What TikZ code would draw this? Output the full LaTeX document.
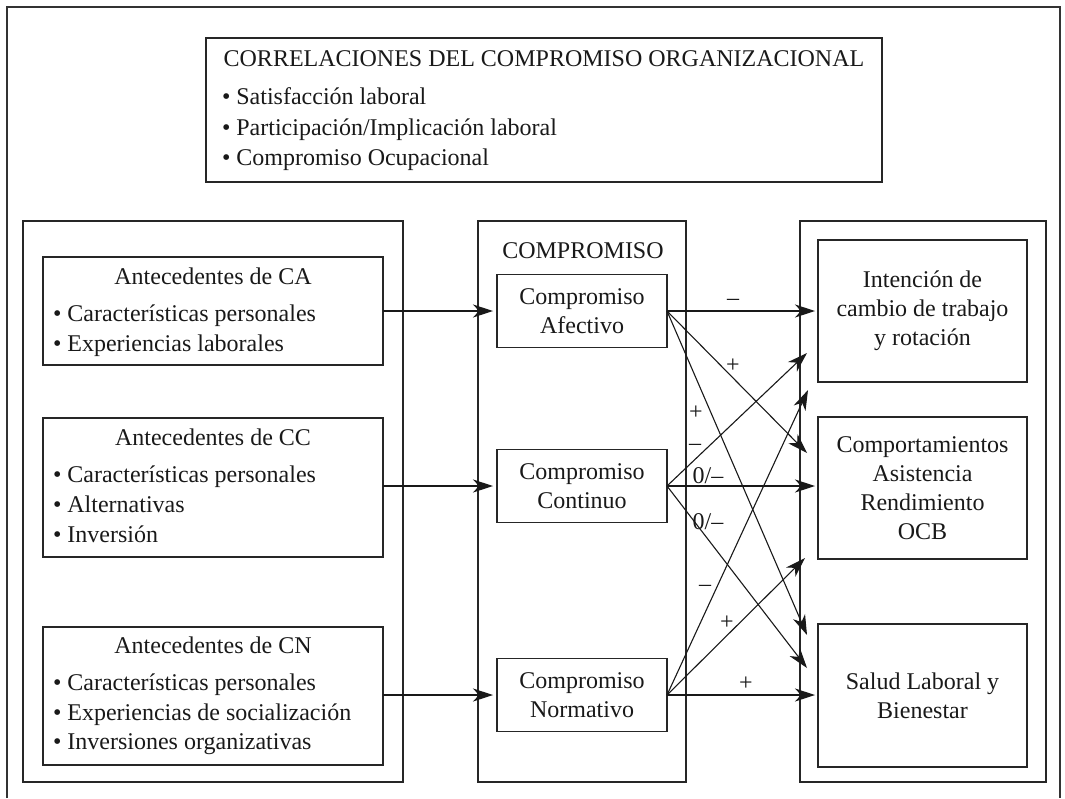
\documentclass[tikz,border=0pt]{standalone}
\usepackage{fontspec}
\setmainfont{Liberation Serif}
\usetikzlibrary{arrows.meta}
\begin{document}
\begin{tikzpicture}[x=1pt,y=-1pt,
  every node/.style={font=\fontsize{24}{29}\selectfont, inner sep=0pt, outer sep=0pt, text=black!90},
  box/.style={draw=black!85, line width=1.3pt, rectangle},
  frame/.style={draw=black!80, line width=1.3pt},
  arr/.style={draw=black!90, line width=1.1pt, -{Stealth[length=20pt,width=13pt,inset=6pt]}},
  lbl/.style={},
]
\useasboundingbox (0,0) rectangle (1065,798);
\draw[frame] (7,798) -- (7,7) -- (1060,7) -- (1060,798);

% top box
\node[box, minimum width=676pt, minimum height=144pt] (corr) at (544,110) {};
\node[anchor=base] (corrT) at (544,66.6) {CORRELACIONES DEL COMPROMISO ORGANIZACIONAL};
\node[anchor=base west] (corr1) at (222,104.5) {• Satisfacción laboral};
\node[anchor=base west] (corr2) at (222,135.5) {• Participación/Implicación laboral};
\node[anchor=base west] (corr3) at (222,165) {• Compromiso Ocupacional};

% big boxes
\node[box, minimum width=380pt, minimum height=561pt] (leftBig) at (213,501.5) {};
\node[box, minimum width=208pt, minimum height=561pt] (midBig) at (582,501.5) {};
\node[box, minimum width=246pt, minimum height=561pt] (rightBig) at (923,501.5) {};

% left inner boxes
\node[box, minimum width=340pt, minimum height=108pt] (ca) at (213,311) {};
\node[anchor=base] (caH) at (213,284) {Antecedentes de CA};
\node[anchor=base west] (ca1) at (53,321) {• Características personales};
\node[anchor=base west] (ca2) at (53,351) {• Experiencias laborales};

\node[box, minimum width=340pt, minimum height=139pt] (cc) at (213,487.5) {};
\node[anchor=base] (ccH) at (213,445) {Antecedentes de CC};
\node[anchor=base west] (cc1) at (53,482) {• Características personales};
\node[anchor=base west] (cc2) at (53,512) {• Alternativas};
\node[anchor=base west] (cc3) at (53,542) {• Inversión};

\node[box, minimum width=340pt, minimum height=138pt] (cn) at (213,696) {};
\node[anchor=base] (cnH) at (213,653) {Antecedentes de CN};
\node[anchor=base west] (cn1) at (53,690) {• Características personales};
\node[anchor=base west] (cn2) at (53,720) {• Experiencias de socialización};
\node[anchor=base west] (cn3) at (53,749) {• Inversiones organizativas};

% middle
\node[anchor=base] (compT) at (583,258) {COMPROMISO};
\node[box, align=center, minimum width=170pt, minimum height=73pt] (af) at (582,311) {Compromiso\\Afectivo};
\node[box, align=center, minimum width=170pt, minimum height=73pt] (co) at (582,486) {Compromiso\\Continuo};
\node[box, align=center, minimum width=170pt, minimum height=73pt] (no) at (582,695) {Compromiso\\Normativo};

% right
\node[box, align=center, minimum width=209pt, minimum height=142pt] (in) at (922.5,311) {Intención de\\cambio de trabajo\\y rotación};
\node[box, align=center, minimum width=209pt, minimum height=142pt] (cp) at (922.5,488) {Comportamientos\\Asistencia\\Rendimiento\\OCB};
\node[box, align=center, minimum width=209pt, minimum height=143pt] (sa) at (922.5,695.5) {Salud Laboral y\\Bienestar};

% arrows left -> middle
\draw[arr, shorten >=4pt] (ca.east |- af.west) -- (af.west);
\draw[arr, shorten >=4pt] (cc.east |- co.west) -- (co.west);
\draw[arr, shorten >=4pt] (cn.east |- no.west) -- (no.west);

% arrow end points
\coordinate (tIn2) at (807,353);
\coordinate (tIn3) at (808,390);
\coordinate (tCp1) at (807,453);
\coordinate (tCp3) at (805,558);
\coordinate (tSa1) at (807,635);
\coordinate (tSa2) at (807,668);

% middle -> right
\draw[arr, shorten >=3pt] (af.east) -- (af.east -| in.west);
\draw[arr] (af.east) -- (tCp1);
\draw[arr] (af.east) -- (tSa1);
\draw[arr] (co.east) -- (tIn2);
\draw[arr, shorten >=3pt] (co.east) -- (co.east -| cp.west);
\draw[arr] (co.east) -- (tSa2);
\draw[arr] (no.east) -- (tIn3);
\draw[arr] (no.east) -- (tCp3);
\draw[arr, shorten >=3pt] (no.east) -- (no.east -| sa.west);

% labels
\node[lbl] (l1) at (733,302) {–};
\node[lbl] (l2) at (733,366) {+};
\node[lbl] (l3) at (696,413) {+};
\node[lbl] (l4) at (695,447) {–};
\node[lbl] (l5) at (708,476) {0/–};
\node[lbl] (l6) at (708,522) {0/–};
\node[lbl] (l7) at (705,588) {–};
\node[lbl] (l8) at (727,623) {+};
\node[lbl] (l9) at (746,684) {+};
\end{tikzpicture}
\end{document}
